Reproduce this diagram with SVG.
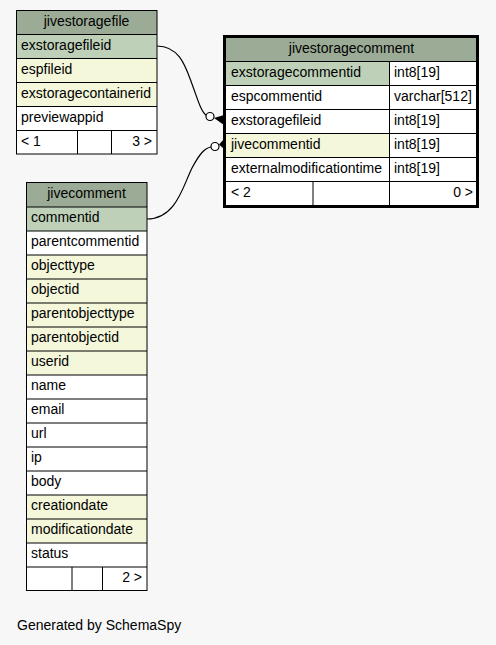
<svg xmlns="http://www.w3.org/2000/svg" width="496" height="645" viewBox="0 0 496 645">
<style>
text{font-family:"Liberation Sans",Arial,Helvetica,sans-serif;font-size:14px;fill:#000}
.h{fill:#9bab96}
.pk{fill:#bed1b8}
.ix{fill:#f4f7da}
.w{fill:#ffffff}
.ln{stroke:#000;stroke-width:1;fill:none}
.c{text-anchor:middle}
.r{text-anchor:end}
.edge{stroke:#000;stroke-width:1.2;fill:none}
.dot{stroke:#000;stroke-width:1.2;fill:#fff}
</style>
<rect width="496" height="645" fill="#f7f7f7"/>

<g id="jivestoragefile">
<rect class="h" x="16" y="10" width="141" height="24"/>
<rect class="pk" x="16" y="34" width="141" height="24"/>
<rect class="ix" x="16" y="58" width="141" height="24"/>
<rect class="ix" x="16" y="82" width="141" height="24"/>
<rect class="w" x="16" y="106" width="141" height="48"/>
<rect class="ln" x="16.5" y="10.5" width="140.5" height="143.5"/>
<path class="ln" d="M16,34.5H157M16,58.5H157M16,82.5H157M16,106.5H157M16,130.5H157M77.5,130V154M111.5,130V154"/>
<text class="c" x="86.5" y="26">jivestoragefile</text>
<text x="21" y="50">exstoragefileid</text>
<text x="21" y="74">espfileid</text>
<text x="21" y="98">exstoragecontainerid</text>
<text x="21" y="122">previewappid</text>
<text x="21" y="146">&lt; 1</text>
<text class="r" x="152" y="146">3 &gt;</text>
</g>

<g id="jivestoragecomment">
<rect class="h" x="226" y="37" width="251" height="24"/>
<rect class="pk" x="226" y="61" width="163" height="24"/>
<rect class="w" x="389" y="61" width="88" height="24"/>
<rect class="w" x="226" y="85" width="251" height="48"/>
<rect class="ix" x="226" y="133" width="163" height="24"/>
<rect class="w" x="389" y="133" width="88" height="72"/>
<rect class="w" x="226" y="157" width="163" height="48"/>
<path class="ln" d="M226,61.5H477M226,85.5H477M226,109.5H477M226,133.5H477M226,157.5H477M226,181.5H477M389.5,61V205M313,181V205"/>
<rect x="224.5" y="36.5" width="253" height="170" fill="none" stroke="#000" stroke-width="3"/>
<text class="c" x="351.5" y="53">jivestoragecomment</text>
<text x="231" y="77">exstoragecommentid</text>
<text x="394" y="77">int8[19]</text>
<text x="231" y="101">espcommentid</text>
<text x="394" y="101">varchar[512]</text>
<text x="231" y="125">exstoragefileid</text>
<text x="394" y="125">int8[19]</text>
<text x="231" y="149">jivecommentid</text>
<text x="394" y="149">int8[19]</text>
<text x="231" y="173">externalmodificationtime</text>
<text x="394" y="173">int8[19]</text>
<text x="231" y="197">&lt; 2</text>
<text class="r" x="473" y="197">0 &gt;</text>
</g>

<g id="jivecomment">
<rect class="h" x="26" y="182" width="121" height="25"/>
<rect class="pk" x="26" y="207" width="121" height="24"/>
<rect class="w" x="26" y="231" width="121" height="24"/>
<rect class="ix" x="26" y="255" width="121" height="120"/>
<rect class="w" x="26" y="375" width="121" height="120"/>
<rect class="ix" x="26" y="495" width="121" height="48"/>
<rect class="w" x="26" y="543" width="121" height="48"/>
<rect class="ln" x="26.5" y="182.5" width="120.5" height="408"/>
<path class="ln" d="M26,207H147M26,231H147M26,255H147M26,279H147M26,303H147M26,327H147M26,351H147M26,375H147M26,399H147M26,423H147M26,447H147M26,471H147M26,495H147M26,519H147M26,543H147M26,567H147M72,567V591M102.5,567V591"/>
<text class="c" x="86.5" y="198">jivecomment</text>
<text x="31" y="222">commentid</text>
<text x="31" y="246">parentcommentid</text>
<text x="31" y="270">objecttype</text>
<text x="31" y="294">objectid</text>
<text x="31" y="318">parentobjecttype</text>
<text x="31" y="342">parentobjectid</text>
<text x="31" y="366">userid</text>
<text x="31" y="390">name</text>
<text x="31" y="414">email</text>
<text x="31" y="438">url</text>
<text x="31" y="462">ip</text>
<text x="31" y="486">body</text>
<text x="31" y="510">creationdate</text>
<text x="31" y="534">modificationdate</text>
<text x="31" y="558">status</text>
<text class="r" x="142" y="582">2 &gt;</text>
</g>

<g id="connectors">
<path class="edge" d="M157,46C180,46 186,68 192,84C198,100 201,112 206.5,115.5"/>
<circle class="dot" cx="210" cy="116.5" r="4"/>
<polygon points="214,118 224,115 224,125" fill="#000"/>
<path class="edge" d="M147,219C176,219 183,186 192,168C200,153 205,148 211,147"/>
<circle class="dot" cx="215" cy="146.5" r="4"/>
<polygon points="219,144.5 224,139 224,149" fill="#000"/>
</g>

<text x="17" y="630">Generated by SchemaSpy</text>
</svg>
